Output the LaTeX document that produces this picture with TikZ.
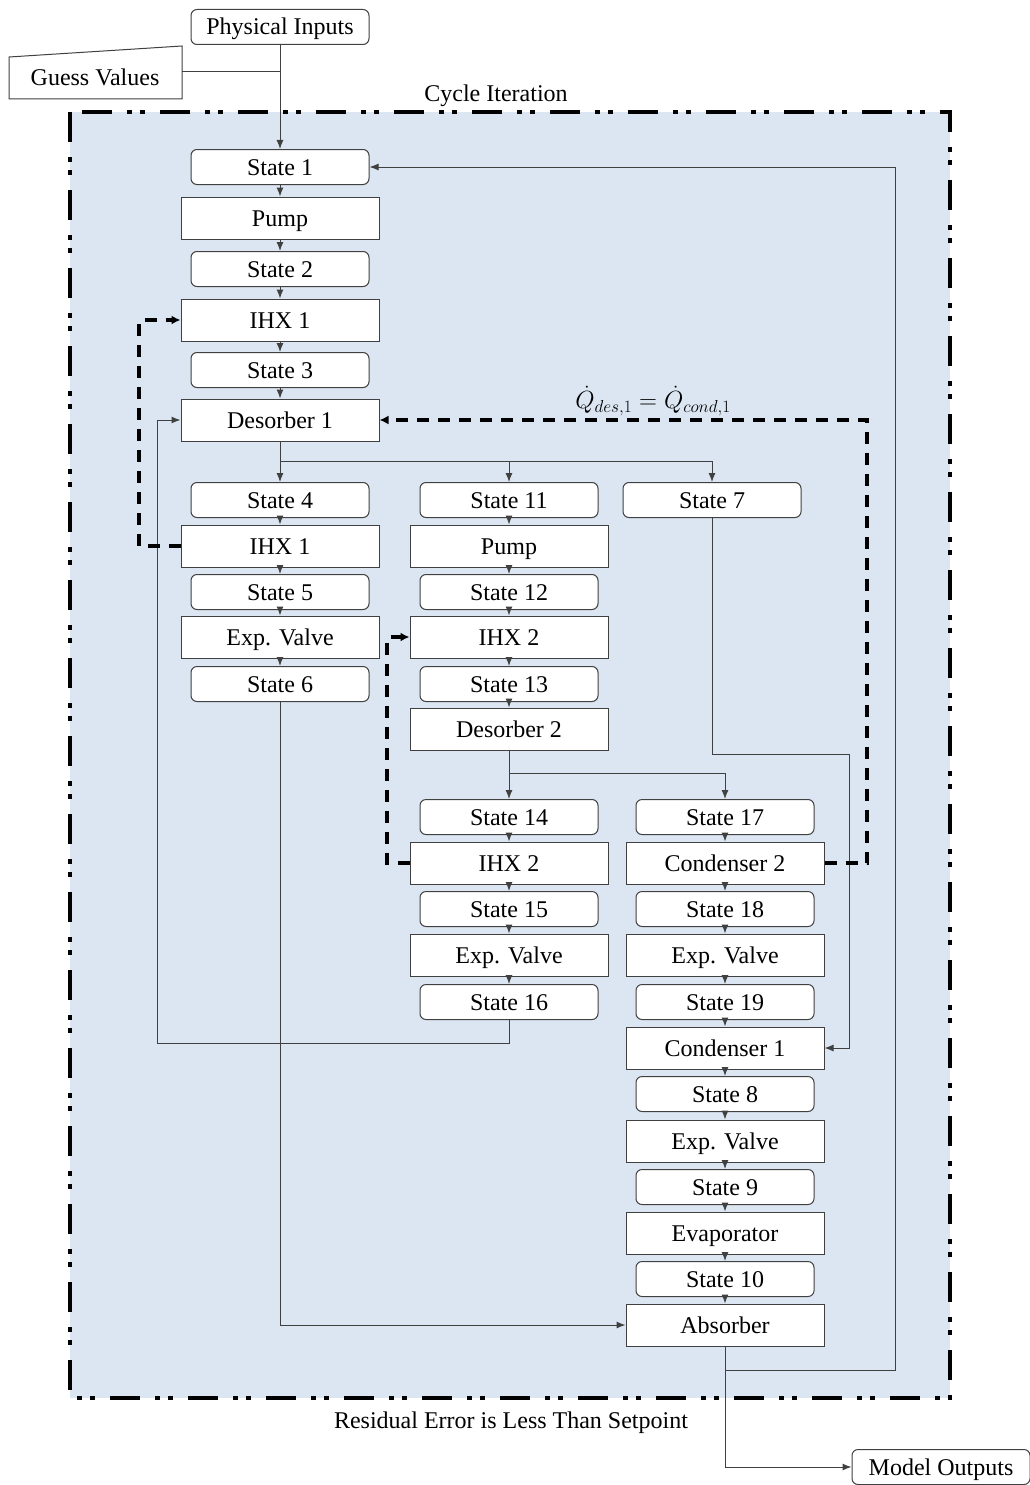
\documentclass[tikz,border=0pt]{standalone}
\usepackage{fontspec}
\setmainfont{Liberation Serif}
\usetikzlibrary{arrows.meta}
\definecolor{loopfill}{HTML}{DCE6F2}
\definecolor{edgegray}{HTML}{404040}
\begin{document}
\begin{tikzpicture}[x=1pt,y=-1pt,
  every node/.style={font=\fontsize{24}{28}\selectfont, inner sep=0pt},
  boxtext/.style={text height=16pt, text depth=0pt},
  statebox/.style={boxtext, draw=edgegray, line width=1pt, fill=white, rounded corners=6pt,
    minimum width=178pt, minimum height=35pt},
  unitbox/.style={boxtext, draw=edgegray, line width=1pt, fill=white,
    minimum width=198pt, minimum height=42pt},
  flow/.style={draw=edgegray, line width=1pt, -{Latex[length=9pt,width=7pt]}},
  wire/.style={draw=edgegray, line width=1pt},
  heatflow/.style={draw=black, line width=3.2pt, dash pattern=on 12pt off 9pt,
    -{Latex[length=9pt,width=9pt]}},
  loopframe/.style={draw=black, line width=4.5pt, fill=loopfill,
    dash pattern=on 30pt off 15pt on 5pt off 8pt on 5pt off 15pt}]
\useasboundingbox (0,0) rectangle (1030,1485);

% iteration loop frame
\draw[loopframe] (70,112) rectangle (950,1398);
\node[boxtext] (cyc) at (496,94) {Cycle Iteration};
\node[boxtext] (res) at (511,1420) {Residual Error is Less Than Setpoint};

% inputs
\node[statebox] (PI) at (280,27) {Physical Inputs};
\draw[edgegray, line width=1pt, fill=white] (9,57) -- (182,46) -- (182,99) -- (9,99) -- cycle;
\node[boxtext] (GV) at (95,78) {Guess Values};
\coordinate (gvout) at (182,72);

% left column
\node[statebox] (S1) at (280,167) {State 1};
\node[unitbox] (P1) at (280,218) {Pump};
\node[statebox] (S2) at (280,269) {State 2};
\node[unitbox] (HXa) at (280,320) {IHX 1};
\node[statebox] (S3) at (280,370) {State 3};
\node[unitbox] (D1) at (280,420) {Desorber 1};
\node[statebox] (S4) at (280,500) {State 4};
\node[unitbox] (HXb) at (280,546) {IHX 1};
\node[statebox] (S5) at (280,592) {State 5};
\node[unitbox] (EV1) at (280,637) {Exp. Valve};
\node[statebox] (S6) at (280,684) {State 6};

% middle column
\node[statebox] (S11) at (509,500) {State 11};
\node[unitbox] (P2) at (509,546) {Pump};
\node[statebox] (S12) at (509,592) {State 12};
\node[unitbox] (HXc) at (509,637) {IHX 2};
\node[statebox] (S13) at (509,684) {State 13};
\node[unitbox] (D2) at (509,729) {Desorber 2};
\node[statebox] (S14) at (509,817) {State 14};
\node[unitbox] (HXd) at (509,863) {IHX 2};
\node[statebox] (S15) at (509,909) {State 15};
\node[unitbox] (EV2) at (509,955) {Exp. Valve};
\node[statebox] (S16) at (509,1002) {State 16};

% right column
\node[statebox] (S7) at (712,500) {State 7};
\node[statebox] (S17) at (725,817) {State 17};
\node[unitbox] (C2) at (725,863) {Condenser 2};
\node[statebox] (S18) at (725,909) {State 18};
\node[unitbox] (EV3) at (725,955) {Exp. Valve};
\node[statebox] (S19) at (725,1002) {State 19};
\node[unitbox] (C1) at (725,1048) {Condenser 1};
\node[statebox] (S8) at (725,1094) {State 8};
\node[unitbox] (EV4) at (725,1141) {Exp. Valve};
\node[statebox] (S9) at (725,1187) {State 9};
\node[unitbox] (EVP) at (725,1233) {Evaporator};
\node[statebox] (S10) at (725,1279) {State 10};
\node[unitbox] (ABS) at (725,1325) {Absorber};

% outputs
\node[statebox] (MO) at (941,1467) {Model Outputs};

% heat balance label
\node[font=\fontsize{26}{30}\selectfont] (qbal) at (653,401) {$\dot{Q}_{des,1} = \dot{Q}_{cond,1}$};

% inputs into the loop
\draw[wire] (gvout) -- (gvout -| PI.south);
\draw[flow] (PI) -- (S1);

% stacked flows
\foreach \a/\b in {S1/P1, P1/S2, S2/HXa, HXa/S3, S3/D1,
                   S4/HXb, HXb/S5, S5/EV1, EV1/S6,
                   S11/P2, P2/S12, S12/HXc, HXc/S13, S13/D2,
                   S14/HXd, HXd/S15, S15/EV2, EV2/S16,
                   S17/C2, C2/S18, S18/EV3, EV3/S19, S19/C1,
                   C1/S8, S8/EV4, EV4/S9, S9/EVP, EVP/S10, S10/ABS}
  \draw[flow] (\a) -- (\b);

% desorber 1 split
\coordinate (j1) at (280,461);
\draw[wire] (D1) -- (j1);
\draw[flow] (j1) -- (S4);
\draw[flow] (j1) -| (S11);
\draw[flow] (j1) -| (S7);

% desorber 2 split
\coordinate (j2) at (509,773);
\draw[wire] (D2) -- (j2);
\draw[flow] (j2) -- (S14);
\draw[flow] (j2) -| (S17);

% return lines
\draw[flow] (S6) |- (ABS);
\coordinate (j3) at (725,1370);
\coordinate (r3) at (895,1370);
\draw[flow] (ABS) -- (j3) -- (r3) |- (S1);
\draw[flow] (j3) |- (MO);
\coordinate (j4) at (509,1043);
\coordinate (l4) at (157,1043);
\draw[flow] (S16) -- (j4) -- (l4) |- (D1);
\coordinate (j5) at (712,754);
\coordinate (r5) at (849,754);
\draw[flow] (S7) -- (j5) -- (r5) |- (C1);

% internal heat exchange
\coordinate (h1) at (139,546);
\draw[heatflow] (HXb.west) -- (h1) |- (HXa.west);
\coordinate (h2) at (387,863);
\draw[heatflow] (HXd.west) -- (h2) |- (HXc.west);
\coordinate (h3) at (867,863);
\draw[heatflow] (C2.east) -- (h3) |- (D1.east);
\end{tikzpicture}
\end{document}
